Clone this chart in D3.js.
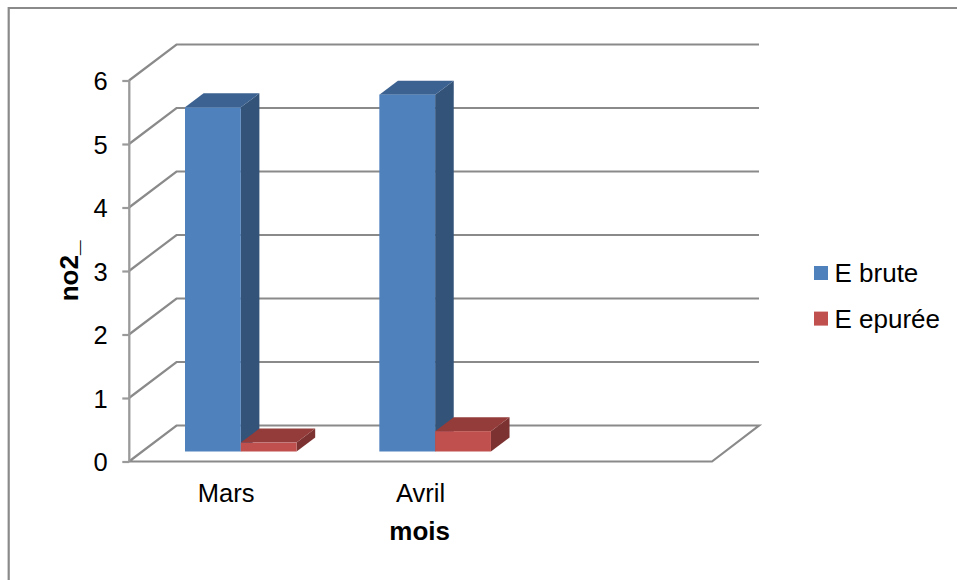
<!DOCTYPE html>
<html><head><meta charset="utf-8">
<script src="https://cdn.jsdelivr.net/npm/d3@7"></script>
<style>html,body{margin:0;padding:0;background:#fff}svg{display:block}text{font-family:"Liberation Sans",Arial,sans-serif;fill:#000}</style>
</head><body><svg id="c" width="957" height="580"></svg>
<script>
const categories = ["Mars","Avril"];
const seriesNames = ["E brute","E epurée"];
const brute = [5.42,5.62];
const epuree = [0.14,0.32];
const yTicks = [0,1,2,3,4,5,6];
const frontColors = ["#4f81bd","#c0504d"];
const topColors = ["#3c6291","#943c3a"];
const sideColors = ["#335379","#7c3231"];

const svg = d3.select("#c");
const grid = "#8a8a8a";
const axisColor = "#9a9a9a";
const fs = 25.5;
const dx = 47.5, dy = -36;
const y = d3.scaleLinear().domain([0,6]).range([461.5,80.5]);
const x = d3.scaleBand().domain(["Mars","Avril","_"]).range([129,712]);

// frame
svg.append("path").attr("d","M8.7,580V8H957").attr("fill","none").attr("stroke",grid).attr("stroke-width",2.2);

// gridlines and walls
const g = svg.append("g").attr("fill","none").attr("stroke",grid).attr("stroke-width",2.2);
yTicks.forEach(t=>{
  const yy=y(t);
  const pts = t===0 ? [[129,yy],[129+dx,yy+dy],[759,yy+dy],[712,yy],[129,yy]] : [[129,yy],[129+dx,yy+dy],[759,yy+dy]];
  g.append("path").attr("d",d3.line()(pts));
});
// axis
const ax = svg.append("g").attr("transform","translate(129.3,0)")
  .call(d3.axisLeft(y).tickValues(yTicks).tickSize(7).tickPadding(14.5).tickFormat(d3.format("d")));
ax.select(".domain").attr("stroke",axisColor).attr("stroke-width",2.3).attr("d","M0,"+y(6)+"V"+y(0));
ax.selectAll("line").attr("stroke",axisColor).attr("stroke-width",2.2);
ax.selectAll("text").attr("font-size",fs).attr("font-family",'"Liberation Sans"').attr("fill","#000").attr("dy","0.36em");

// 3-D bars
const barW = 55.8, bd = 18.6, bh = -14, base = 10;
const barsG = svg.append("g");
function box(left, v, i){
  const x0 = left, x1 = left+barW, yb = y(0)-base, yt = y(v)-base;
  barsG.append("polygon").attr("points",[[x1,yb],[x1+bd,yb+bh],[x1+bd,yt+bh],[x1,yt]].join(" ")).attr("fill",sideColors[i]);
  barsG.append("polygon").attr("points",[[x0,yt],[x0+bd,yt+bh],[x1+bd,yt+bh],[x1,yt]].join(" ")).attr("fill",topColors[i]);
  barsG.append("rect").attr("x",x0).attr("y",yt).attr("width",barW).attr("height",yb-yt).attr("fill",frontColors[i]);
}
categories.forEach((c,k)=>{
  const left = x(c)+56;
  box(left, brute[k], 0);
  box(left+barW, epuree[k], 1);
});

// category labels
svg.append("g").selectAll("text").data(categories).join("text")
  .attr("x",c=>x(c)+x.bandwidth()/2).attr("y",502).attr("text-anchor","middle").attr("font-size",fs).text(c=>c);

// axis titles
svg.append("text").attr("x",419.7).attr("y",540).attr("text-anchor","middle").attr("font-size",26).attr("font-weight","bold").text("mois");
svg.append("text").attr("transform","translate(78,271) rotate(-90)").attr("text-anchor","middle").attr("font-size",26).attr("font-weight","bold").text("no2_");

// legend
const leg = svg.append("g").selectAll("g").data(seriesNames).join("g").attr("transform",(d,i)=>`translate(814,${i*45.6})`);
leg.append("rect").attr("y",266).attr("width",14).attr("height",14).attr("fill",(d,i)=>frontColors[i]);
leg.append("text").attr("x",20.5).attr("y",282).attr("font-size",26).text(d=>d);
</script></body></html>
